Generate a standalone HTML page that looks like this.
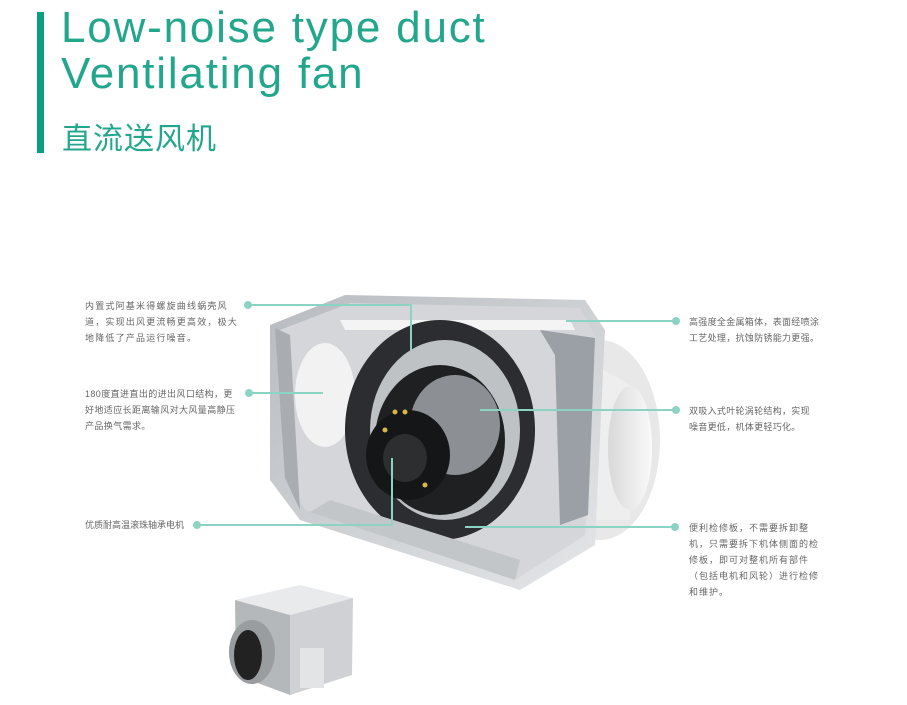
<!DOCTYPE html>
<html><head><meta charset="utf-8"><style>
body{margin:0;width:907px;height:705px;background:#fff;position:relative;overflow:hidden;font-family:"Liberation Sans","Noto Sans CJK SC",sans-serif}
.bar{position:absolute;left:37px;top:12px;width:7px;height:141px;background:#0a9f83}
.t{position:absolute;left:61px;color:#22a68c;font-size:44px;line-height:44px;white-space:nowrap;letter-spacing:1.8px}
.cn{position:absolute;left:62px;top:114px;color:#22a68c;font-size:30px;letter-spacing:1px}
.d{position:absolute;color:#666;font-size:9px;line-height:16px;white-space:nowrap}
.l{letter-spacing:1.2px}.r{letter-spacing:0.3px}
</style></head><body>
<div class="bar"></div>
<div class="t" style="top:6px">Low-noise type duct</div>
<div class="t" style="top:52px">Ventilating fan</div>
<div class="cn">直流送风机</div>

<svg width="907" height="705" style="position:absolute;left:0;top:0">
<defs>
<linearGradient id="g1" x1="0" y1="0" x2="1" y2="1"><stop offset="0" stop-color="#b8bcc0"/><stop offset="1" stop-color="#e4e6e8"/></linearGradient>
<linearGradient id="g2" x1="0" y1="0" x2="1" y2="0"><stop offset="0" stop-color="#d8d8d8"/><stop offset="1" stop-color="#fafafa"/></linearGradient>
</defs>
<ellipse cx="600" cy="440" rx="60" ry="100" fill="#e8e8e8"/>
<path d="M560 345 L630 385 L630 520 L560 520Z" fill="#eee"/>
<ellipse cx="630" cy="448" rx="22" ry="62" fill="url(#g2)"/>
<path d="M270 325 L345 295 L585 300 L605 330 L595 545 L520 590 L300 520 L270 480Z" fill="url(#g1)"/>
<path d="M280 330 L350 303 L580 308 L595 335 L585 535 L515 580 L305 510 L285 475Z" fill="#d4d6d9"/>
<path d="M275 328 L290 335 L300 510 L285 478Z" fill="#a9adb2"/>
<ellipse cx="325" cy="395" rx="30" ry="52" fill="#f2f2f2"/>
<path d="M340 320 L570 320 L575 330 L345 330Z" fill="#f4f4f4"/>
<path d="M540 330 L595 338 L588 515 L560 525 L555 355Z" fill="#9aa0a5"/>
<ellipse cx="440" cy="430" rx="95" ry="110" fill="#2b2d30"/>
<ellipse cx="445" cy="430" rx="75" ry="90" fill="#bfc2c5"/>
<ellipse cx="440" cy="440" rx="65" ry="75" fill="#1e2022"/>
<ellipse cx="455" cy="425" rx="45" ry="50" fill="#8c8f93"/>
<ellipse cx="408" cy="455" rx="42" ry="45" fill="#151618"/>
<ellipse cx="405" cy="458" rx="22" ry="24" fill="#2c2e30"/>
<circle cx="395" cy="412" r="2.5" fill="#d9b64a"/><circle cx="405" cy="412" r="2.5" fill="#d9b64a"/><circle cx="425" cy="485" r="2.5" fill="#d9b64a"/><circle cx="385" cy="430" r="2.5" fill="#d9b64a"/>
<path d="M330 500 L520 560 L515 580 L310 512Z" fill="#c3c6c9"/>
<g stroke="#8dd3c4" stroke-width="2" fill="none">
<path d="M248 305 H411 V350"/><path d="M249 393 H323"/><path d="M197 525 H392 V458"/>
<path d="M566 321 H676"/><path d="M480 410 H676"/><path d="M465 527 H675"/>
</g>
<g fill="#8dd3c4"><circle cx="248" cy="305" r="4"/><circle cx="249" cy="393" r="4"/><circle cx="197" cy="525" r="4"/><circle cx="676" cy="321" r="4"/><circle cx="676" cy="410" r="4"/><circle cx="675" cy="527" r="4"/></g>
<path d="M235 600 L300 585 L353 598 L290 615Z" fill="#e9eaec"/>
<path d="M290 615 L353 598 L352 675 L290 695Z" fill="#cfd1d4"/>
<path d="M235 600 L290 615 L290 695 L236 675Z" fill="#b5b8bb"/>
<ellipse cx="252" cy="652" rx="23" ry="32" fill="#9a9da0"/>
<ellipse cx="248" cy="655" rx="14" ry="25" fill="#222"/>
<rect x="300" y="648" width="24" height="40" fill="#e3e4e6"/>
</svg>

<div class="d l" style="left:85px;top:298px">内置式阿基米得螺旋曲线蜗壳风<br>道，实现出风更流畅更高效，极大<br>地降低了产品运行噪音。</div>
<div class="d" style="left:85px;top:386px;letter-spacing:0.4px">180度直进直出的进出风口结构，更<br>好地适应长距离输风对大风量高静压<br>产品换气需求。</div>
<div class="d" style="left:85px;top:517px">优质耐高温滚珠轴承电机</div>
<div class="d r" style="left:689px;top:314px">高强度全金属箱体，表面经喷涂<br>工艺处理，抗蚀防锈能力更强。</div>
<div class="d r" style="left:689px;top:403px">双吸入式叶轮涡轮结构，实现<br>噪音更低，机体更轻巧化。</div>
<div class="d" style="left:689px;top:520px;letter-spacing:1px">便利检修板，不需要拆卸整<br>机，只需要拆下机体侧面的检<br>修板，即可对整机所有部件<br>（包括电机和风轮）进行检修<br>和维护。</div>
</body></html>
